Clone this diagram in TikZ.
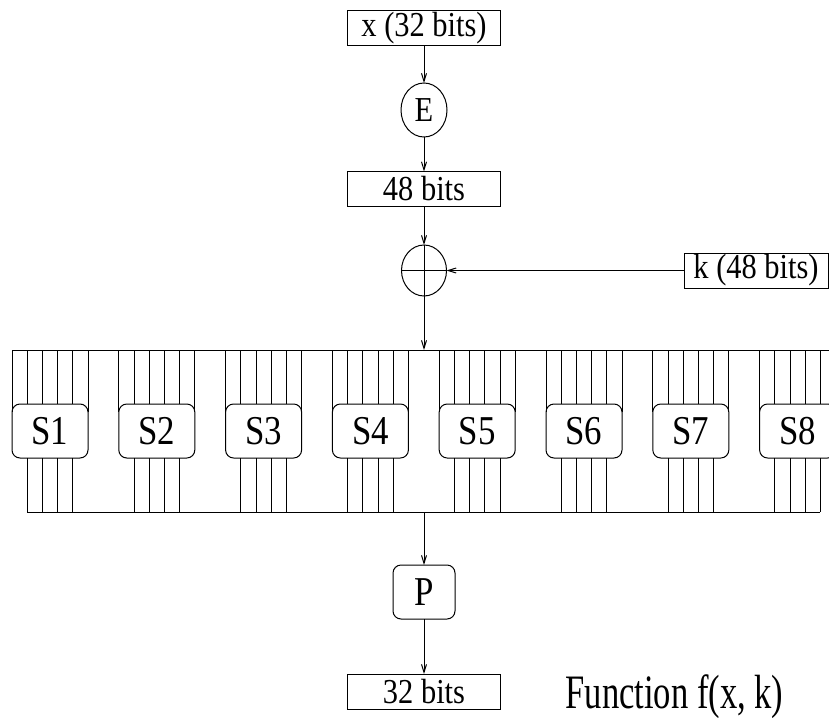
\documentclass[tikz,border=0pt]{standalone}
\usepackage{fontspec}
\setmainfont{Liberation Serif}
\newfontfamily\fA[FakeStretch=0.87]{Liberation Serif}
\newfontfamily\fS[FakeStretch=0.85]{Liberation Serif}
\newfontfamily\fF[FakeStretch=0.72]{Liberation Serif}
\usetikzlibrary{shapes.geometric,arrows.meta,calc}
\begin{document}
\begin{tikzpicture}[x=1pt,y=-1pt,
  line width=1pt,
  arr/.style={-{Straight Barb[length=8pt,width=5pt]}},
  bitbox/.style={draw,rectangle,minimum width=153pt,minimum height=35pt,inner sep=0pt,outer sep=0pt,font=\fA\fontsize{35}{35}\selectfont},
  sbox/.style={draw,rectangle,rounded corners=8pt,minimum width=76pt,minimum height=54pt,inner sep=0pt,outer sep=0pt,font=\fS\fontsize{41}{41}\selectfont},
  oval/.style={draw,ellipse,inner sep=0pt,outer sep=0pt,font=\fA\fontsize{35}{35}\selectfont}
]
\useasboundingbox (0,0) rectangle (829,717);
\clip (0,0) rectangle (829,717);

\node[bitbox] (xin) at (424,28.5) {x (32 bits)};
\node[oval,minimum width=46pt,minimum height=54pt] (E) at (424,110) {E};
\node[bitbox] (b48) at (424,189) {48 bits};
\node[oval,minimum width=45pt,minimum height=51pt] (xor) at (424,270.5) {};
\node[bitbox,minimum width=144pt] (k) at (756,270.5) {k (48 bits)};
\coordinate (busin) at (424,350);
\coordinate (busout) at (424,512);

\foreach \i in {1,...,8}{
  \node[sbox] (s\i) at ({50+106.8*(\i-1)},431) {S\i};
  \draw ($(s\i.north west)+(0,8)$) -- ++(0,-62);
  \draw ($(s\i.north east)+(0,8)$) -- ++(0,-62);
  \foreach \k in {1,...,4}{
    \draw ($(s\i.north west)!\k/5!(s\i.north east)$) -- ++(0,-54);
    \draw ($(s\i.south west)!\k/5!(s\i.south east)$) -- ++(0,54);
  }
}
\draw (s1.north west |- busin) -- (840,350);
\coordinate (bl) at ($(s1.south west)!0.2!(s1.south east)+(0,54)$);
\coordinate (br) at ($(s8.south west)!0.8!(s8.south east)+(0,54)$);
\draw (bl) -- (br);

\node[sbox,minimum width=62pt,minimum height=54pt] (P) at (424,592) {P};
\node[bitbox] (b32) at (424,691.5) {32 bits};
\node[anchor=base west,inner sep=0pt,font=\fF\fontsize{48}{48}\selectfont] (fn) at (565,708) {Function f(x, k)};

\draw[arr] (xin) -- (E);
\draw[arr] (E) -- (b48);
\draw[arr] (b48) -- (xor.north);
\draw (xor.north) -- (xor.south);
\draw (xor.west) -- (xor.east);
\draw[arr] (k) -- (xor.east);
\draw[arr] (xor.south) -- (busin);
\draw[arr] (busout) -- (P);
\draw[arr] (P) -- (b32);
\end{tikzpicture}
\end{document}
